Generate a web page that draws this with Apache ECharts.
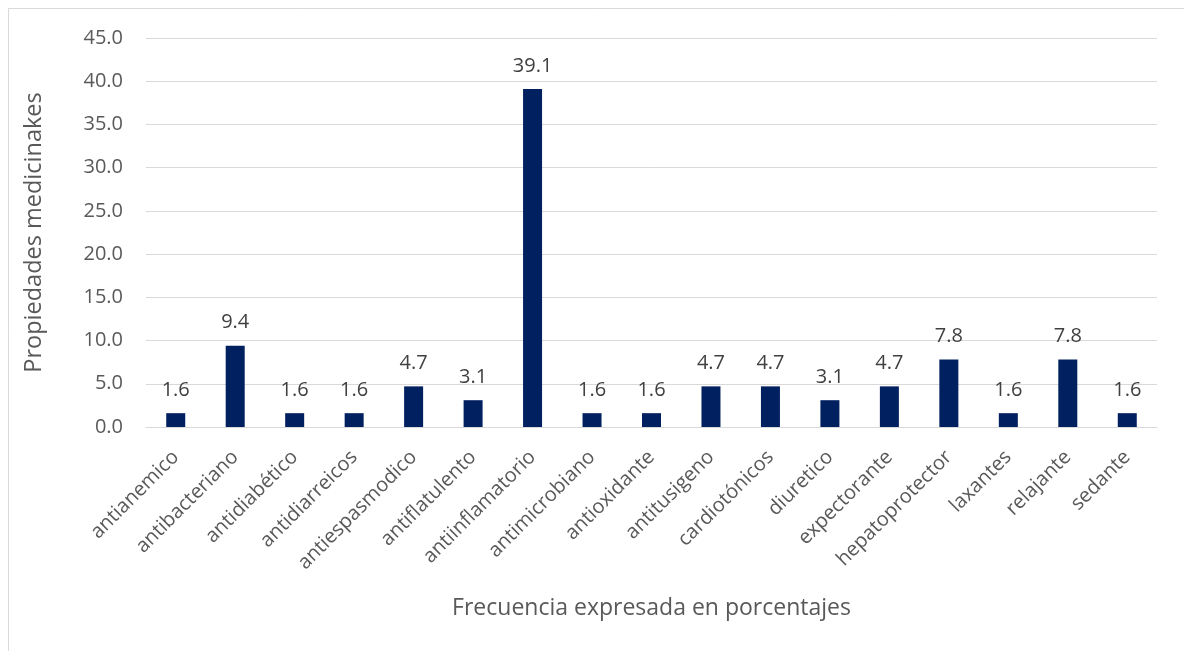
<!DOCTYPE html>
<html>
<head>
<meta charset="utf-8">
<script src="https://cdn.jsdelivr.net/npm/echarts@6/dist/echarts.min.js"></script>
<style>
  html, body { margin: 0; padding: 0; background: #ffffff; }
  #chart { width: 1184px; height: 651px; }
</style>
</head>
<body>
<div id="chart"></div>
<script>
// Medicinal properties and their share in percent
const categories = [
  'antianemico', 'antibacteriano', 'antidiabético', 'antidiarreicos',
  'antiespasmodico', 'antiflatulento', 'antiinflamatorio', 'antimicrobiano',
  'antioxidante', 'antitusigeno', 'cardiotónicos', 'diuretico',
  'expectorante', 'hepatoprotector', 'laxantes', 'relajante', 'sedante'
];
const percentages = [1.6, 9.4, 1.6, 1.6, 4.7, 3.1, 39.1, 1.6, 1.6, 4.7, 4.7, 3.1, 4.7, 7.8, 1.6, 7.8, 1.6];
const yTicks = { min: 0, max: 45, interval: 5 };
const xTitle = 'Frecuencia expresada en porcentajes';
const yTitle = 'Propiedades medicinakes';

const textColor = '#595959';
const fontFamily = '"Open Sans", "Noto Sans", sans-serif';

const chart = echarts.init(document.getElementById('chart'), null, { renderer: 'canvas' });
chart.setOption({
  animation: false,
  backgroundColor: '#ffffff',
  textStyle: { fontFamily: fontFamily },
  graphic: [{
    type: 'rect',
    shape: { x: 8.5, y: 8.5, width: 1190, height: 700 },
    style: { fill: 'none', stroke: '#d9d9d9', lineWidth: 1 },
    silent: true
  }],
  grid: { left: 146, right: 27, top: 38, bottom: 224, containLabel: false },
  xAxis: {
    type: 'category',
    data: categories,
    axisLine: { show: true, lineStyle: { color: '#d9d9d9', width: 1 } },
    axisTick: { show: false },
    axisLabel: {
      rotate: 45,
      interval: 0,
      color: textColor,
      fontSize: 20,
      fontFamily: fontFamily,
      margin: 27
    },
    name: xTitle,
    nameLocation: 'middle',
    nameGap: 170,
    nameTextStyle: { color: textColor, fontSize: 23, fontFamily: fontFamily }
  },
  yAxis: {
    type: 'value',
    min: yTicks.min,
    max: yTicks.max,
    interval: yTicks.interval,
    axisLine: { show: false },
    axisTick: { show: false },
    splitLine: { show: true, lineStyle: { color: '#d9d9d9', width: 1 } },
    axisLabel: {
      color: textColor,
      fontSize: 20,
      fontFamily: fontFamily,
      margin: 23,
      formatter: v => v.toFixed(1)
    },
    name: yTitle,
    nameLocation: 'middle',
    nameGap: 100,
    nameTextStyle: { color: textColor, fontSize: 23.5, fontFamily: fontFamily }
  },
  series: [{
    type: 'bar',
    data: percentages,
    barWidth: 19,
    itemStyle: { color: '#002060' },
    label: {
      show: true,
      position: 'top',
      distance: 13,
      color: '#404040',
      fontSize: 20,
      fontFamily: fontFamily,
      formatter: p => p.value.toFixed(1)
    }
  }]
});
</script>
</body>
</html>
